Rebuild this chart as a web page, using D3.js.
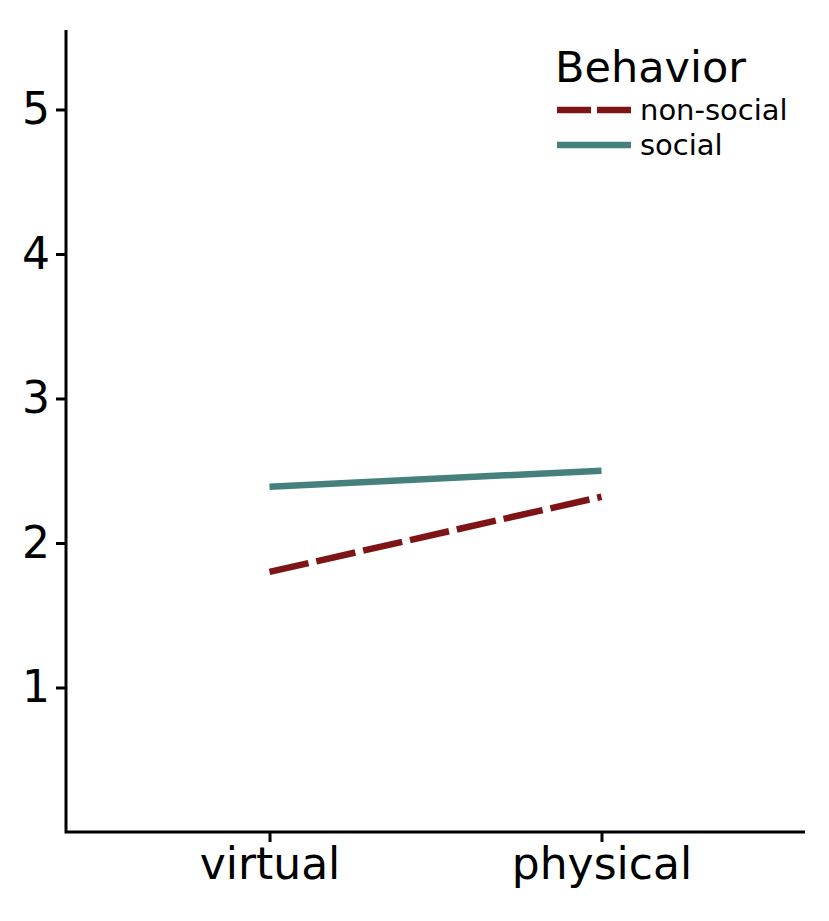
<!DOCTYPE html>
<html>
<head>
<meta charset="utf-8">
<script src="https://cdn.jsdelivr.net/npm/d3@7"></script>
<style>
body { margin: 0; background: #fff; }
text { font-family: "DejaVu Sans", sans-serif; }
</style>
</head>
<body>
<script>
// data
var settings = ["virtual", "physical"];
var behaviors = ["non-social", "social"];
var nonSocial = [1.80, 2.32];
var social = [2.39, 2.50];
var yTicks = [1, 2, 3, 4, 5];

var colors = { "non-social": "#7f1416", "social": "#45807c" };
var dashes = { "non-social": "40,8", "social": null };

var width = 829, height = 921;
var margin = { top: 30, right: 24, bottom: 89, left: 66 };

var svg = d3.select("body").append("svg")
    .attr("width", width)
    .attr("height", height);

var x = d3.scalePoint()
    .domain(settings)
    .range([margin.left, width - margin.right])
    .padding(0.613);

var y = d3.scaleLinear()
    .domain([0, 5.55])
    .range([height - margin.bottom, margin.top]);

var series = [
    { name: "non-social", values: nonSocial },
    { name: "social", values: social }
];

var line = d3.line()
    .x(function(d, i) { return x(settings[i]); })
    .y(function(d) { return y(d); });

svg.selectAll(".series")
    .data(series)
    .enter()
    .append("path")
    .attr("class", "series")
    .attr("d", function(d) { return line(d.values); })
    .attr("fill", "none")
    .attr("stroke", function(d) { return colors[d.name]; })
    .attr("stroke-width", 6.5)
    .attr("stroke-dasharray", function(d) { return dashes[d.name]; });

// axes
var yAxis = svg.append("g")
    .attr("transform", "translate(" + margin.left + ",0)")
    .call(d3.axisLeft(y).tickValues(yTicks).tickFormat(d3.format("d")).tickSize(10).tickPadding(6));

var xAxis = svg.append("g")
    .attr("transform", "translate(0," + (height - margin.bottom) + ")")
    .call(d3.axisBottom(x).tickSize(10).tickPadding(6));

[yAxis, xAxis].forEach(function(g) {
    g.select(".domain").remove();
    g.selectAll("line").attr("stroke", "#000").attr("stroke-width", 3);
    g.selectAll("text").attr("fill", "#000").style("font-size", "44px");
});

// axis lines as an L shape
svg.append("path")
    .attr("d", "M" + margin.left + "," + margin.top + "V" + (height - margin.bottom) + "H" + (width - margin.right))
    .attr("fill", "none")
    .attr("stroke", "#000")
    .attr("stroke-width", 3);

// legend
var legend = svg.append("g").attr("transform", "translate(555,0)");

legend.append("text")
    .attr("x", 0)
    .attr("y", 82)
    .style("font-size", "43px")
    .text("Behavior");

var items = legend.selectAll(".item")
    .data(behaviors)
    .enter()
    .append("g")
    .attr("class", "item")
    .attr("transform", function(d, i) { return "translate(0," + (110 + i * 35) + ")"; });

items.append("line")
    .attr("x1", 2)
    .attr("x2", 76)
    .attr("stroke", function(d) { return colors[d]; })
    .attr("stroke-width", 6.5)
    .attr("stroke-dasharray", function(d) { return d === "non-social" ? "34,6" : null; });

items.append("text")
    .attr("x", 85)
    .attr("dy", "0.35em")
    .style("font-size", "29px")
    .text(function(d) { return d; });
</script>
</body>
</html>
